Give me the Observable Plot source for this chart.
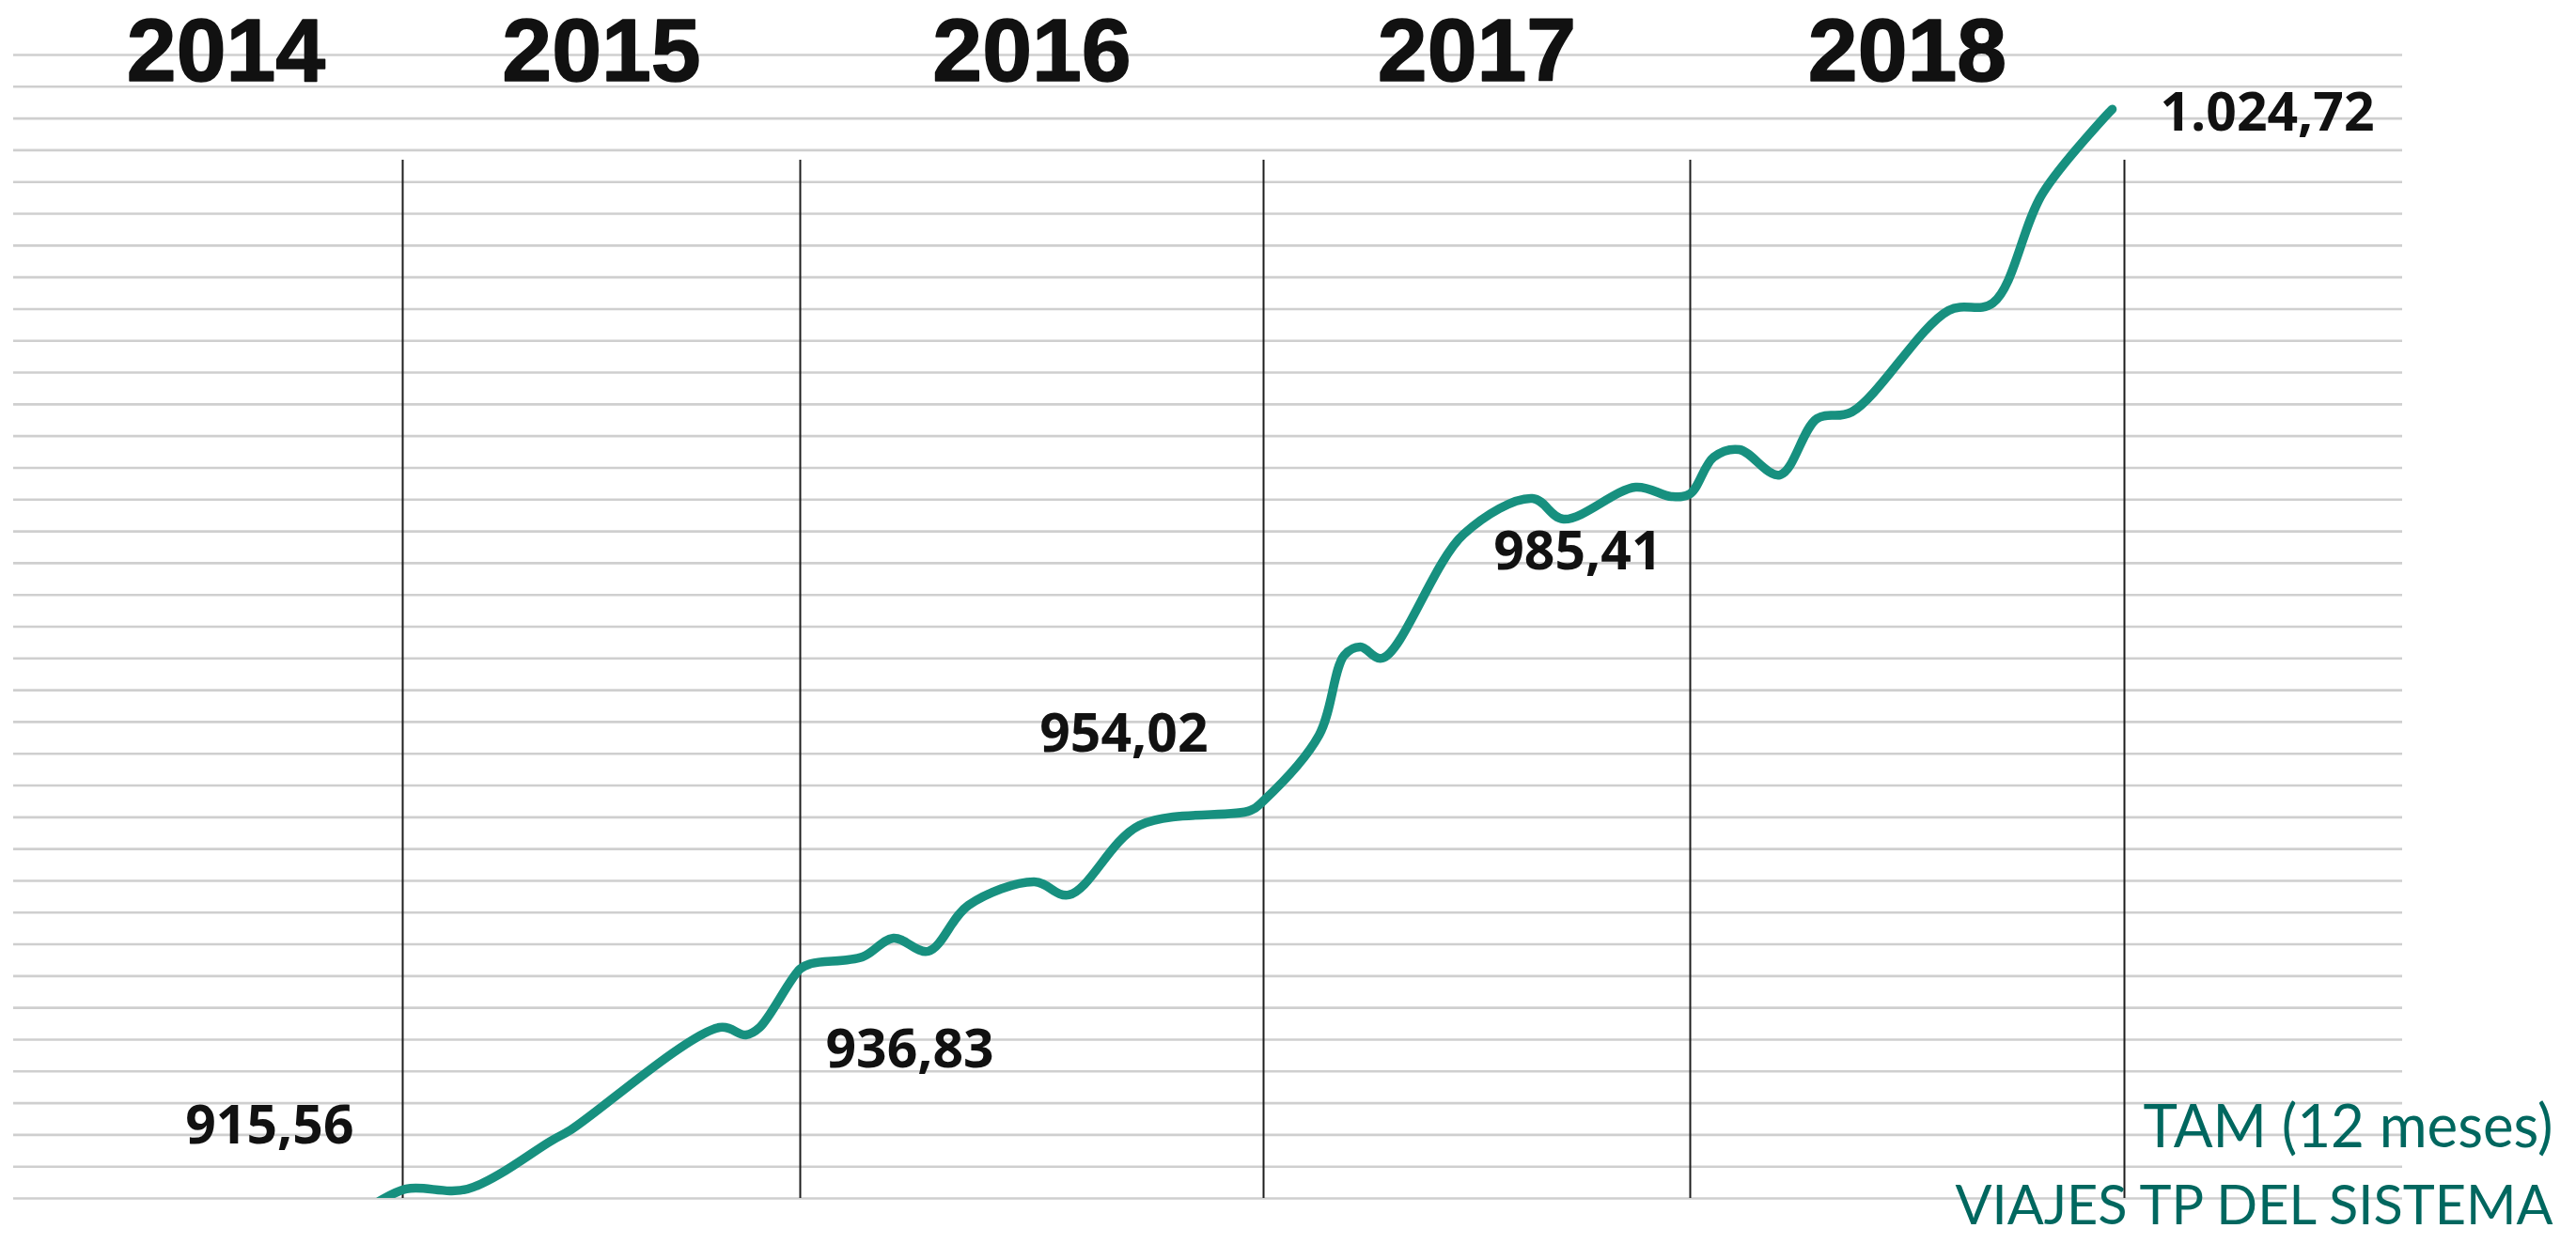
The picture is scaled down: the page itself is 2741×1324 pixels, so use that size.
<!DOCTYPE html>
<html>
<head>
<meta charset="utf-8">
<script src="https://cdn.jsdelivr.net/npm/d3@7"></script>
<script src="https://cdn.jsdelivr.net/npm/@observablehq/plot@0.6"></script>
<style>
  html, body { margin: 0; padding: 0; background: #fff; overflow: hidden; }
  #chart svg { display: block; }
</style>
</head>
<body>
<div id="chart"></div>
<script>
// ---- data ----
const yearStarts = [2014, 2015, 2016, 2017, 2018, 2019];
const yearLabels = ["2014", "2015", "2016", "2017", "2018"];

// TAM (12 meses) – viajes TP del sistema (millones), x in decimal years
const tamX = [2014.912, 2015.009, 2015.163, 2015.376, 2015.423, 2015.797, 2015.863, 2015.898,
  2016.000, 2016.024, 2016.134, 2016.201, 2016.276, 2016.363, 2016.505, 2016.580, 2016.732, 2016.972,
  2017.000, 2017.130, 2017.189, 2017.227, 2017.278, 2017.469, 2017.630, 2017.703, 2017.872, 2017.956,
  2018.000, 2018.054, 2018.113, 2018.206, 2018.292, 2018.372, 2018.595, 2018.697, 2018.812, 2018.972];
const tamValues = [912.59, 914.32, 914.32, 919.31, 920.37, 930.84, 930.07, 930.84,
  936.83, 937.37, 938.05, 939.97, 938.62, 943.33, 945.73, 944.39, 951.49, 953.03,
  954.02, 960.72, 968.88, 969.75, 968.59, 981.27, 984.92, 982.81, 986.08, 985.12,
  985.41, 989.15, 989.92, 987.32, 993.09, 993.76, 1004.14, 1004.90, 1016.14, 1024.72];

// year-end annotations
const annotYearEnd = [2015, 2016, 2017, 2018, 2019];
const annotValues = [915.56, 936.83, 954.02, 985.41, 1024.72];
const annotTexts = ["915,56", "936,83", "954,02", "985,41", "1.024,72"];

const captionLines = ["TAM (12 meses)", "VIAJES TP DEL SISTEMA"];

// ---- build ----
const tam = tamX.map((x, i) => ({x, v: tamValues[i]}));
const annots = annotYearEnd.map((x, i) => ({x, v: annotValues[i], t: annotTexts[i]}));
const yDomain = [913.357, 1030.264];
const gridCount = 37;
const gridValues = d3.range(gridCount).map(i => yDomain[0] + i * (yDomain[1] - yDomain[0]) / (gridCount - 1));

// styling of each annotation (offset from its year-end point)
const annotStyle = [
  {dx: -52, dy: -54, textAnchor: "end"},
  {dx: 27, dy: 87, textAnchor: "start"},
  {dx: -59, dy: -70, textAnchor: "end"},
  {dx: -30, dy: 62, textAnchor: "end"},
  {dx: 38, dy: 5, textAnchor: "start"}
];

const teal = "#17907f";
const captionColor = "#00675f";

const chart = Plot.plot({
  width: 2741,
  height: 1324,
  marginTop: 58,
  marginBottom: 49,
  marginLeft: 14,
  marginRight: 185,
  style: {background: "#fff"},
  x: {type: "linear", domain: yearStarts, range: [52, 428, 851, 1344, 1798, 2260], axis: null},
  y: {domain: yDomain, axis: null},
  marks: [
    Plot.ruleY(gridValues, {stroke: "#cfcfcf", strokeWidth: 2.6}),
    Plot.ruleX(yearStarts.slice(1), {stroke: "#1e1e1e", strokeWidth: 2, insetTop: 112}),
    Plot.line(tam, {x: "x", y: "v", stroke: teal, strokeWidth: 9.5, curve: "catmull-rom",
      strokeLinejoin: "round", strokeLinecap: "round", clip: "frame"}),
    Plot.text(yearLabels, {x: d => +d + 0.5, text: d => d, frameAnchor: "top", lineAnchor: "bottom", dy: 27,
      fontSize: 95, fontWeight: "bold", fontFamily: "Liberation Sans, Arial, sans-serif", fill: "#111",
      stroke: "#111", strokeWidth: 1.5}),
    ...annots.map((a, i) => Plot.text([a], {x: "x", y: "v", text: "t",
      dx: annotStyle[i].dx, dy: annotStyle[i].dy, textAnchor: annotStyle[i].textAnchor,
      lineAnchor: "middle", fontSize: 57, fontWeight: "bold", fontFamily: "Open Sans, sans-serif", fill: "#111"})),
    Plot.text([captionLines[0]], {text: d => d, frameAnchor: "bottom-right", textAnchor: "end", lineAnchor: "bottom",
      dx: 160, dy: -55, fontSize: 63, fontFamily: "Lato, sans-serif", fill: captionColor}),
    Plot.text([captionLines[1]], {text: d => d, frameAnchor: "bottom-right", textAnchor: "end", lineAnchor: "bottom",
      dx: 160, dy: 27, fontSize: 59, fontFamily: "Lato, sans-serif", fill: captionColor})
  ]
});
document.getElementById("chart").appendChild(chart);

// fit caption widths to the reference's narrow face
const captionWidths = {"TAM (12 meses)": 436, "VIAJES TP DEL SISTEMA": 636};
chart.querySelectorAll("text").forEach(t => {
  const w = captionWidths[t.textContent];
  if (w) { t.setAttribute("textLength", w); t.setAttribute("lengthAdjust", "spacingAndGlyphs"); }
});
</script>
</body>
</html>
